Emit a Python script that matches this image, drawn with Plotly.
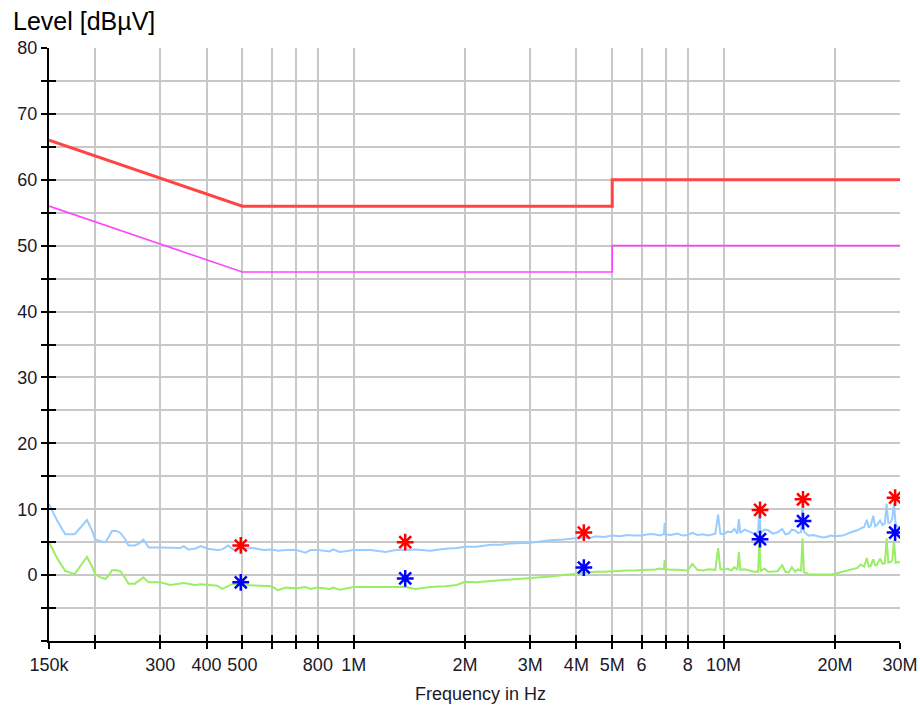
import math
import plotly.graph_objects as go

# ---------------- data ----------------
# limit lines (frequency in Hz, level in dBuV)
qp_limit_freq = [150e3, 500e3, 5e6, 5e6, 30e6]
qp_limit_level = [66, 56, 56, 60, 60]
av_limit_freq = [150e3, 500e3, 5e6, 5e6, 30e6]
av_limit_level = [56, 46, 46, 50, 50]

# measured traces (frequency in MHz)
scan_freq_mhz = [0.150, 0.158, 0.166, 0.176, 0.183, 0.190, 0.196, 0.200, 0.206, 0.213,
                 0.218, 0.222, 0.228, 0.234, 0.240, 0.246, 0.256, 0.263, 0.270, 0.279,
                 0.300, 0.319, 0.340, 0.347, 0.357, 0.372, 0.386, 0.403, 0.428, 0.441,
                 0.458, 0.472, 0.500, 0.537, 0.571, 0.600, 0.624, 0.655, 0.700, 0.740,
                 0.764, 0.800, 0.862, 0.880, 0.916, 1.00, 1.11, 1.22, 1.30, 1.38,
                 1.47, 1.61, 1.77, 1.90, 2.00, 2.15, 2.35, 2.50, 2.65, 3.00,
                 3.40, 3.70,
                 4.00, 4.17, 4.35, 4.50, 4.75, 5.00, 5.25, 5.50, 5.75, 6.00,
                 6.25, 6.50, 6.70, 6.90, 6.93, 6.96, 7.20, 7.50, 7.75, 8.00,
                 8.23, 8.50, 8.80, 9.10, 9.50, 9.67, 9.80, 10.0, 10.25, 10.5,
                 10.7, 10.9, 11.0, 11.1, 11.4, 11.8, 12.1, 12.4, 12.5, 12.6,
                 12.9, 13.2, 13.6, 14.0, 14.4, 14.7, 15.0, 15.3, 15.6, 15.9,
                 16.2, 16.35, 16.5, 16.8, 17.0, 17.5, 18.0, 18.5, 19.0, 19.5,
                 20.0, 21.0, 22.1, 22.5, 23.0, 23.5, 24.0, 24.4, 24.7, 25.0,
                 25.4, 25.7, 26.0, 26.5, 26.9, 27.3, 27.6, 27.9, 28.3, 28.6,
                 28.9, 29.2, 29.6, 30.0]

peak_level = [10.8, 8.2, 6.2, 6.2, 7.3, 8.35, 6.8, 5.4, 5.2, 5.0,
              5.9, 6.7, 6.7, 6.4, 5.6, 4.5, 4.5, 4.8, 5.4, 4.2,
              4.2, 4.2, 4.1, 4.4, 3.9, 4.0, 4.4, 4.0, 3.8, 3.9,
              4.5, 3.9, 4.0, 4.1, 3.8, 3.9, 3.7, 3.8, 3.8, 3.4,
              3.8, 3.8, 3.6, 3.9, 3.5, 3.8, 3.8, 3.5, 3.8, 3.8,
              3.9, 3.7, 4.0, 4.1, 4.3, 4.3, 4.6, 4.6, 4.8, 4.9,
              5.3, 5.4,
              5.6, 5.7, 5.6, 5.9, 5.8, 6.0, 5.9, 6.1, 6.0, 6.0,
              6.2, 6.2, 6.0, 6.2, 7.9, 6.2, 6.1, 6.3, 6.0, 6.1,
              6.4, 6.1, 6.2, 6.0, 6.3, 9.2, 6.3, 6.2, 6.6, 6.5,
              7.0, 6.3, 8.5, 6.4, 6.9, 6.6, 6.3, 6.5, 9.8, 6.4,
              6.9, 6.8, 6.3, 6.5, 7.0, 6.2, 6.3, 6.9, 6.8, 6.4,
              6.5, 11.0, 6.6, 6.2, 6.0, 6.1, 5.9, 5.7, 5.8, 6.0,
              5.9, 6.0, 6.5, 6.6, 6.8, 7.1, 7.3, 8.4, 7.2, 7.5,
              9.0, 7.4, 7.6, 8.3, 7.6, 7.8, 10.8, 7.9, 8.0, 8.6,
              11.0, 7.5, 7.4, 7.2]

average_level = [5.0, 2.5, 0.65, 0.15, 1.5, 2.75, 1.3, 0.15, -0.3, -0.6,
                 0.0, 0.75, 0.75, 0.6, -0.3, -1.3, -1.3, -0.8, -0.35, -1.1,
                 -1.1, -1.5, -1.3, -1.2, -1.3, -1.5, -1.4, -1.5, -1.6, -2.1,
                 -1.6, -1.3, -1.5, -1.6, -1.7, -1.7, -2.3, -1.9, -2.0, -1.8,
                 -2.1, -1.9, -2.1, -1.9, -2.2, -1.8, -1.8, -1.8, -1.8, -1.8,
                 -2.1, -1.8, -1.7, -1.5, -1.0, -1.1, -0.9, -0.8, -0.6, -0.5,
                 -0.2, 0.0,
                 0.2, 0.4, 0.4, 0.5, 0.5, 0.6, 0.6, 0.7, 0.7, 0.8,
                 0.8, 0.8, 1.0, 0.9, 2.3, 0.9, 0.8, 0.8, 0.7, 0.7,
                 1.7, 0.8, 0.7, 0.9, 0.8, 4.1, 0.9, 0.8, 1.0, 0.7,
                 1.2, 0.8, 3.5, 0.8, 0.9, 0.6, 0.5, 0.5, 5.3, 0.6,
                 1.0, 0.5, 0.6, 0.6, 1.5, 0.5, 0.4, 1.2, 0.5, 0.9,
                 0.6, 5.6, 0.4, 0.3, 0.1, 0.1, 0.0, 0.0, 0.1, 0.1,
                 0.2, 0.5, 0.8, 0.9, 1.1, 1.6, 1.3, 2.6, 1.3, 1.4,
                 2.4, 1.5, 1.6, 2.5, 1.7, 1.8, 5.6, 1.9, 2.0, 2.3,
                 5.2, 1.9, 2.0, 1.9]

# final measurement points (frequency in MHz)
final_freq_mhz = [0.495, 1.378, 4.19, 12.55, 16.4, 29.1]
final_qp = [4.5, 5.0, 6.45, 9.9, 11.5, 11.75]
final_av = [-1.1, -0.5, 1.15, 5.45, 8.2, 6.45]

# axis ticks
x_tick_vals = [150e3, 200e3, 300e3, 400e3, 500e3, 600e3, 700e3, 800e3, 1e6,
               2e6, 3e6, 4e6, 5e6, 6e6, 7e6, 8e6, 10e6, 20e6, 30e6]
x_tick_text = ["150k", "", "300", "400", "500", "", "", "800", "1M",
               "2M", "3M", "4M", "5M", "6", "", "8", "10M", "20M", "30M"]
y_tick_vals = [-10, -5, 0, 5, 10, 15, 20, 25, 30, 35, 40, 45, 50, 55, 60, 65, 70, 75, 80]
y_tick_text = ["", "", "0", "", "10", "", "20", "", "30", "", "40", "", "50", "", "60",
               "", "70", "", "80"]

# ---------------- figure ----------------
scan_freq = [f * 1e6 for f in scan_freq_mhz]
final_freq = [f * 1e6 for f in final_freq_mhz]

fig = go.Figure()
fig.add_trace(go.Scatter(x=qp_limit_freq, y=qp_limit_level, mode="lines",
                         line=dict(color="#ff4444", width=3), showlegend=False))
fig.add_trace(go.Scatter(x=av_limit_freq, y=av_limit_level, mode="lines",
                         line=dict(color="#ff44ff", width=1.6), showlegend=False))
fig.add_trace(go.Scatter(x=scan_freq, y=peak_level, mode="lines",
                         line=dict(color="#99ccff", width=2), showlegend=False))
fig.add_trace(go.Scatter(x=scan_freq, y=average_level, mode="lines",
                         line=dict(color="#99ee66", width=2), showlegend=False))
fig.add_trace(go.Scatter(x=final_freq, y=final_qp, mode="markers",
                         marker=dict(symbol="asterisk-open", size=14, color="#ff0000",
                                     line=dict(color="#ff0000", width=2.5)),
                         showlegend=False))
fig.add_trace(go.Scatter(x=final_freq, y=final_av, mode="markers",
                         marker=dict(symbol="asterisk-open", size=14, color="#0000ff",
                                     line=dict(color="#0000ff", width=2.5)),
                         showlegend=False))
# helper trace for the overlay axes (inner halves of crossing ticks)
fig.add_trace(go.Scatter(x=[None], y=[None], xaxis="x2", yaxis="y2",
                         mode="lines", showlegend=False, hoverinfo="skip"))

xr = [math.log10(150e3), math.log10(30e6)]
font_color = "#1a1a2a"
# plot area targets x 49..900, y 48..641 in the 920x709 window
fig.update_layout(
    width=920, height=709,
    margin=dict(l=49, r=20, t=48, b=68, autoexpand=False),
    paper_bgcolor="white", plot_bgcolor="white",
    font=dict(family="Liberation Sans, Arial, sans-serif", color=font_color, size=18),
    xaxis=dict(type="log", range=xr, tickvals=x_tick_vals, ticktext=x_tick_text,
               showgrid=True, gridcolor="#c8c8c8", gridwidth=2,
               showline=True, linecolor="black", linewidth=2,
               ticks="outside", ticklen=6, tickwidth=2, tickcolor="black",
               tickfont=dict(size=18, color=font_color), zeroline=False,
               ticklabelstandoff=0, automargin=False, ticklabeloverflow="allow"),
    yaxis=dict(range=[-10, 80], tickvals=y_tick_vals, ticktext=y_tick_text,
               showgrid=True, gridcolor="#c8c8c8", gridwidth=2,
               showline=True, linecolor="black", linewidth=2,
               ticks="outside", ticklen=6, tickwidth=2, tickcolor="black",
               tickfont=dict(size=18, color=font_color), zeroline=False,
               ticklabelstandoff=0, automargin=False),
    xaxis2=dict(type="log", range=xr, overlaying="x", anchor="y2", side="bottom",
                tickvals=x_tick_vals, showticklabels=False, showgrid=False,
                showline=False, ticks="inside", ticklen=6, tickwidth=2,
                tickcolor="black", zeroline=False, automargin=False),
    yaxis2=dict(range=[-10, 80], overlaying="y", anchor="x2", side="left",
                tickvals=y_tick_vals, showticklabels=False, showgrid=False,
                showline=False, ticks="inside", ticklen=7, tickwidth=2,
                tickcolor="black", zeroline=False, automargin=False),
    annotations=[
        dict(text="Level [dBµV]", xref="paper", yref="paper",
             x=(11 - 49) / 851, y=1 + (48 - 21) / 593, xanchor="left", yanchor="middle",
             showarrow=False, font=dict(size=25, color="black")),
        dict(text="Frequency in Hz", xref="paper", yref="paper",
             x=(480 - 49) / 851, y=-(694 - 641) / 593, xanchor="center", yanchor="middle",
             showarrow=False, font=dict(size=18, color=font_color)),
    ],
)

fig.write_html("out.html", config={"displayModeBar": False},
               post_script="document.body.style.margin='0px';"
                           "document.body.style.overflow='hidden';")
